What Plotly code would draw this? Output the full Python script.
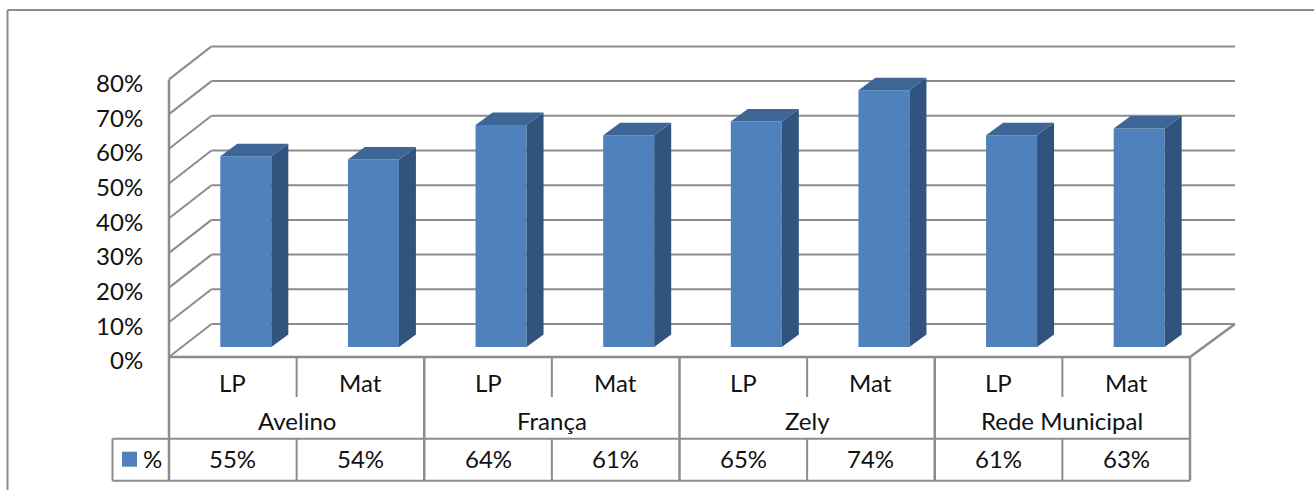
import plotly.graph_objects as go

groups = ["Avelino", "França", "Zely", "Rede Municipal"]
subcats = ["LP", "Mat", "LP", "Mat", "LP", "Mat", "LP", "Mat"]
values = [55, 54, 64, 61, 65, 74, 61, 63]
y_ticks = [0, 10, 20, 30, 40, 50, 60, 70, 80]
y_labels = ["0%", "10%", "20%", "30%", "40%", "50%", "60%", "70%", "80%"]
series_name = "%"

W, H = 1314, 490
X0, SLOT = 169.0, 127.625
Y0, UNIT = 357.0, 3.47
GRID = "#8C8C8C"
FRONT, SIDE, TOP = "#4F81BD", "#31547F", "#3D6595"
FONT = dict(family="Lato, Carlito, sans-serif", size=24, color="#111111")

def dx(px):
    return px / SLOT

def dy(px):
    return px / UNIT

n = len(values)
centers = [i + 0.5 for i in range(n)]
wall_x, wall_y = dx(42.5), dy(33)
wall_right = n + dx(45)
bar_w = 51 / SLOT
off_x, off_y = dx(13), dy(10)
depth_x, depth_y = dx(17), dy(12.5)

fig = go.Figure()
shapes = []

def line(xs, ys, width=2, color=GRID):
    for a, b, c, d in zip(xs[:-1], ys[:-1], xs[1:], ys[1:]):
        shapes.append(dict(type="line", xref="x", yref="y", x0=a, y0=b, x1=c, y1=d, layer="below",
                           line=dict(color=color, width=width)))

# gridlines on the 3D wall and side wall (below the bars)
for t in y_ticks:
    line([0, wall_x, wall_right], [t, t + wall_y, t + wall_y])
line([0, 0], [0, y_ticks[-1]], 2.5)
line([0, n, wall_right], [0, 0, wall_y], 2.5)

# bars: side + top faces derived from values, front from bar trace
fig.add_trace(go.Bar(x=[c + off_x for c in centers], y=values, base=off_y, width=bar_w,
                     marker=dict(color=FRONT, line=dict(width=0)), name=series_name, showlegend=False))
for c, v in zip(centers, values):
    l = c + off_x - bar_w / 2
    r = l + bar_w
    top = v + off_y
    fig.add_trace(go.Scatter(x=[r, r + depth_x, r + depth_x, r, r],
                             y=[off_y, off_y + depth_y, top + depth_y, top, off_y],
                             fill="toself", fillcolor=SIDE, mode="lines", line=dict(width=0),
                             hoverinfo="skip", showlegend=False))
    fig.add_trace(go.Scatter(x=[l, l + depth_x, r + depth_x, r, l],
                             y=[top, top + depth_y, top + depth_y, top, top],
                             fill="toself", fillcolor=TOP, mode="lines", line=dict(width=0),
                             hoverinfo="skip", showlegend=False))

# data table
r1, r2, r3 = -dy(40), -dy(81.7), -dy(123.7)
left = -dx(56.5)
for i in range(n + 1):
    if i % 2 == 1:
        line([i, i], [0, r1], 2)
        line([i, i], [r2, r3], 2)
    else:
        line([i, i], [0, r3], 2.5)
line([left, n], [r2, r2])
line([left, n], [r3, r3])
line([left, left], [r2, r3])

for c, s, v in zip(centers, subcats, values):
    fig.add_annotation(x=c, y=(0 + r1) / 2 - dy(5), text=s, showarrow=False, font=FONT)
    fig.add_annotation(x=c, y=(r2 + r3) / 2 + dy(1), text=f"{v}%", showarrow=False, font=FONT)
for i, g in enumerate(groups):
    fig.add_annotation(x=2 * i + 1, y=(r1 + r2) / 2 - dy(3), text=g, showarrow=False, font=FONT)

fig.add_trace(go.Scatter(x=[-dx(39.5)], y=[(r2 + r3) / 2 + dy(0.5)], mode="markers",
                         marker=dict(symbol="square", size=15, color=FRONT, line=dict(width=0)),
                         hoverinfo="skip", showlegend=False))
fig.add_annotation(x=-dx(17), y=(r2 + r3) / 2 + dy(1), text=series_name, showarrow=False, font=FONT)

shapes += [
    dict(type="line", xref="paper", yref="paper", x0=7.5 / W, x1=1, y0=1 - 10 / H, y1=1 - 10 / H,
         line=dict(color=GRID, width=2)),
    dict(type="line", xref="paper", yref="paper", x0=7.5 / W, x1=7.5 / W, y0=0, y1=1 - 10 / H,
         line=dict(color=GRID, width=2)),
]

fig.update_layout(
    width=W, height=H, margin=dict(l=0, r=0, t=0, b=0), showlegend=False,
    plot_bgcolor="white", paper_bgcolor="white", font=FONT, hovermode=False,
    xaxis=dict(range=[-X0 / SLOT, (W - X0) / SLOT], visible=False, fixedrange=True),
    yaxis=dict(range=[(Y0 - H) / UNIT, Y0 / UNIT], tickvals=y_ticks, ticktext=y_labels,
               anchor="free", position=X0 / W, showgrid=False, zeroline=False, showline=False,
               ticks="outside", ticklen=21, tickcolor="rgba(0,0,0,0)", tickfont=FONT,
               ticklabelshift=4, fixedrange=True),
    shapes=shapes,
)

fig.write_html("out.html", config=dict(displayModeBar=False),
               post_script="document.body.style.margin='0';")
